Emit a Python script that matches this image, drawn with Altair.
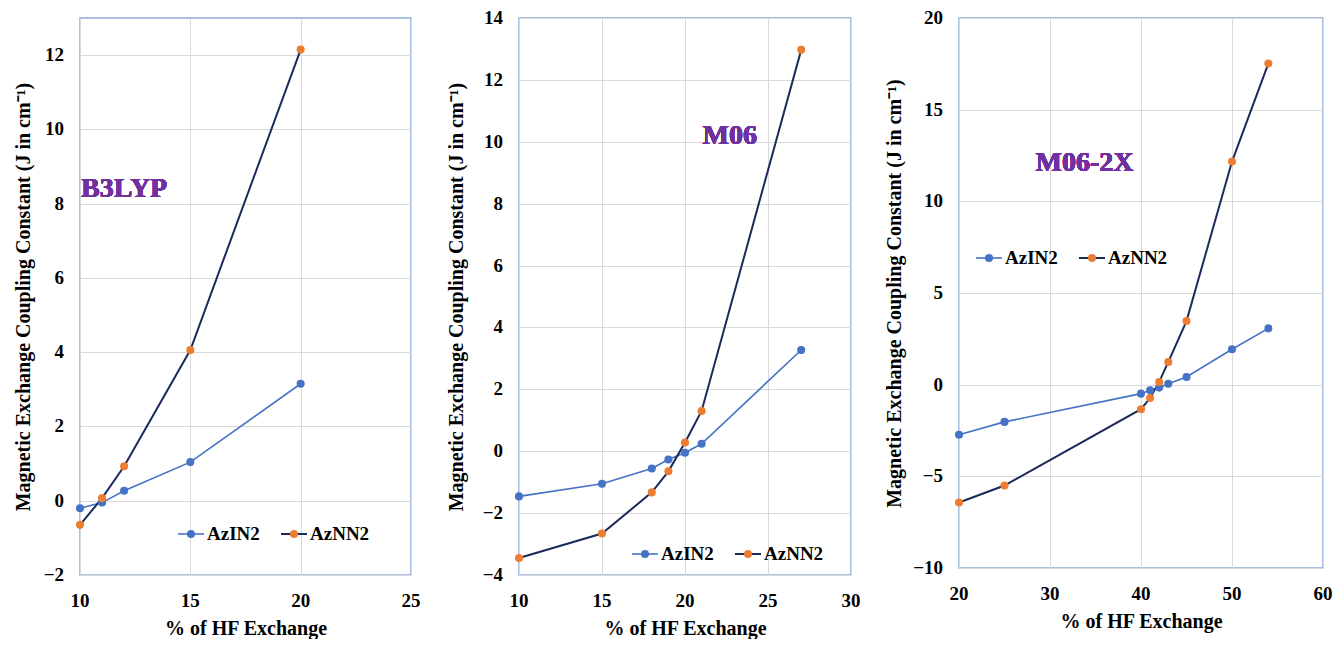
import altair as alt
import pandas as pd

series_names = ["AzIN2", "AzNN2"]

# B3LYP panel
b3_x = [10, 11, 12, 15, 20]
b3_azin2 = [-0.20, -0.05, 0.27, 1.04, 3.15]
b3_aznn2 = [-0.65, 0.07, 0.93, 4.06, 12.15]
b3_xticks = [10, 15, 20, 25]
b3_yticks = [-2, 0, 2, 4, 6, 8, 10, 12]

# M06 panel
m06_x = [10, 15, 18, 19, 20, 21, 27]
m06_azin2 = [-1.46, -1.05, -0.56, -0.27, -0.05, 0.24, 3.27]
m06_aznn2 = [-3.45, -2.66, -1.33, -0.65, 0.28, 1.30, 12.97]
m06_xticks = [10, 15, 20, 25, 30]
m06_yticks = [-4, -2, 0, 2, 4, 6, 8, 10, 12, 14]

# M06-2X panel
m062x_x = [20, 25, 40, 41, 42, 43, 45, 50, 54]
m062x_azin2 = [-2.73, -2.03, -0.49, -0.31, -0.16, 0.05, 0.42, 1.93, 3.07]
m062x_aznn2 = [-6.43, -5.50, -1.34, -0.73, 0.15, 1.24, 3.47, 12.17, 17.52]
m062x_xticks = [20, 30, 40, 50, 60]
m062x_yticks = [-10, -5, 0, 5, 10, 15, 20]

panel_names = ["B3LYP", "M06", "M06-2X"]
x_title = "% of HF Exchange"
y_title = "Magnetic Exchange Coupling Constant (J in cm\u207b\u00b9)"

BLUE = "#4472C4"
NAVY = "#1B2A5C"
ORANGE = "#ED7D31"
PURPLE = "#7030A0"
BORDER = "#8FAADC"
FONT = "Liberation Serif"
LABEL_FONT = "Liberation Serif, DejaVu Serif"
LINE_COLORS = [BLUE, NAVY]
DOT_COLORS = [BLUE, ORANGE]
LINE_WIDTHS = [1.6, 2.0]


def fmt(v):
    return str(v).replace("-", "\u2212")


def make_panel(xs, a, b, xdom, xticks, ydom, yticks, w, h, name, nx, ny, nalign,
               legx, legy, ytpad):
    df = pd.DataFrame({
        "x": list(xs) + list(xs),
        "y": list(a) + list(b),
        "series": [series_names[0]] * len(xs) + [series_names[1]] * len(xs),
    })
    xenc = alt.X("x:Q", scale=alt.Scale(domain=xdom, nice=False, zero=False),
                 axis=alt.Axis(values=xticks, title=x_title, labels=False, titlePadding=43))
    yenc = alt.Y("y:Q", scale=alt.Scale(domain=ydom, nice=False, zero=False),
                 axis=alt.Axis(values=yticks, title=y_title, labels=False, titlePadding=ytpad))
    base = alt.Chart(df)
    lines = base.mark_line().encode(
        x=xenc, y=yenc,
        stroke=alt.Stroke("series:N", scale=alt.Scale(domain=series_names, range=LINE_COLORS), legend=None),
        strokeWidth=alt.StrokeWidth("series:N", scale=alt.Scale(domain=series_names, range=LINE_WIDTHS), legend=None),
    )
    pts = base.mark_circle(size=65, opacity=1).encode(
        x=xenc, y=yenc,
        fill=alt.Fill("series:N", scale=alt.Scale(domain=series_names, range=DOT_COLORS), legend=None),
    )
    label = alt.Chart(df).mark_text(
        text=name, align=nalign, baseline="middle", font=FONT, fontWeight="bold",
        fontSize=28, color=PURPLE,
    ).encode(x=alt.datum(nx), y=alt.datum(ny))

    # tick labels
    txt = dict(font=LABEL_FONT, fontWeight="bold", fontSize=19, color="black")
    xt = pd.DataFrame({"x": xticks, "lab": [fmt(v) for v in xticks]})
    yt = pd.DataFrame({"y": yticks, "lab": [fmt(v) for v in yticks]})
    xlab = alt.Chart(xt).mark_text(align="center", baseline="middle", dy=26, **txt).encode(
        x=xenc, y=alt.value(h), text="lab:N")
    ylab = alt.Chart(yt).mark_text(align="right", baseline="middle", dx=-16, **txt).encode(
        y=yenc, x=alt.value(0), text="lab:N")

    layers = [lines, pts, label, xlab, ylab]

    # legend (line + dot + label per series)
    for i, s in enumerate(series_names):
        ld = pd.DataFrame({"series": [s]})
        x0 = legx + 103 * i
        lb = alt.Chart(ld)
        layers.append(lb.mark_rule(color=LINE_COLORS[i], strokeWidth=LINE_WIDTHS[i]).encode(
            x=alt.value(x0), x2=alt.value(x0 + 26), y=alt.value(legy)))
        layers.append(lb.mark_circle(size=65, opacity=1, color=DOT_COLORS[i]).encode(
            x=alt.value(x0 + 13), y=alt.value(legy)))
        layers.append(lb.mark_text(align="left", baseline="middle", **txt).encode(
            x=alt.value(x0 + 29), y=alt.value(legy), text="series:N"))

    return alt.layer(*layers).properties(width=w, height=h)


p1 = make_panel(b3_x, b3_azin2, b3_aznn2, [10, 25], b3_xticks, [-2, 13], b3_yticks,
                331, 557, panel_names[0], 10.05, 8.4, "left", 98, 516, 47)
p2 = make_panel(m06_x, m06_azin2, m06_aznn2, [10, 30], m06_xticks, [-4, 14], m06_yticks,
                332, 557, panel_names[1], 22.7, 10.2, "center", 113, 536, 53)
p3 = make_panel(m062x_x, m062x_azin2, m062x_aznn2, [20, 60], m062x_xticks, [-10, 20], m062x_yticks,
                364, 550, panel_names[2], 33.8, 12.1, "center", 17, 240, 55)

chart = alt.hconcat(p1, p2, p3, spacing=108, bounds="flush").resolve_scale(
    stroke="independent", fill="independent", strokeWidth="independent"
).properties(
    padding={"left": 4, "top": 0, "right": 0, "bottom": 0},
).configure_view(
    stroke=BORDER, strokeWidth=1.5
).configure_axis(
    titleFont=FONT, titleFontSize=20, titleFontWeight="bold", titleColor="black",
    domain=False, ticks=False, gridColor="#D9D9D9", gridWidth=1,
)

chart.save("out.html", embed_options={"renderer": "svg", "actions": False})
